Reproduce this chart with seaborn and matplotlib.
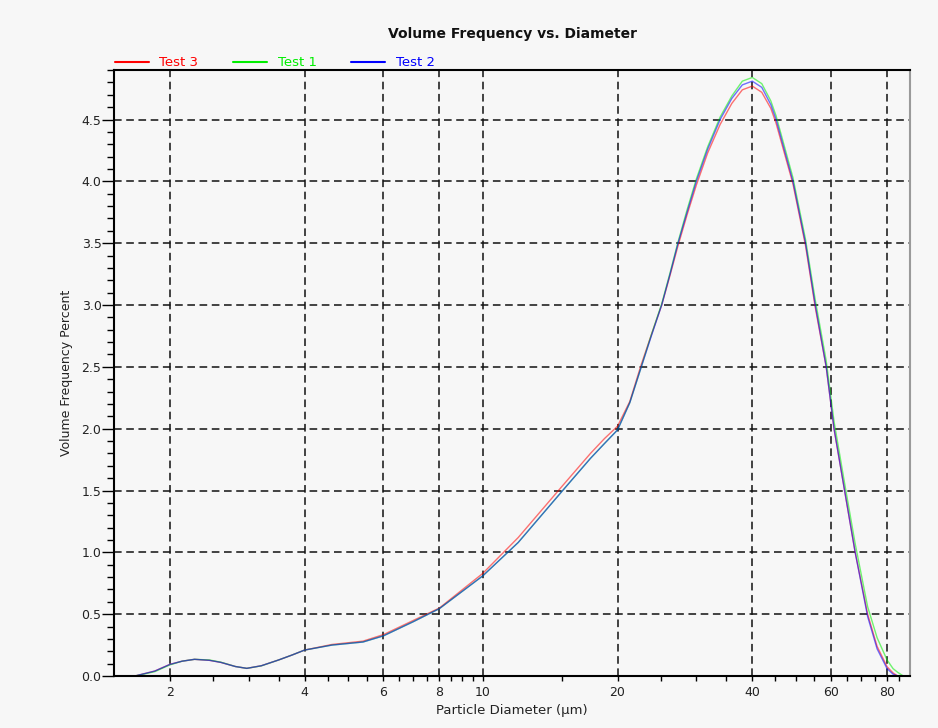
import numpy as np
import pandas as pd
import matplotlib.pyplot as plt
import seaborn as sns
from matplotlib.ticker import FixedLocator, FixedFormatter, MultipleLocator, NullFormatter

# particle diameter (um) and volume frequency (%)
diameter = [1.67, 1.85, 2.0, 2.13, 2.27, 2.45, 2.6, 2.8, 2.97, 3.2, 3.5, 3.75, 4.0, 4.6, 5.4, 6.0,
            7.0, 8.0, 10, 12, 15, 17.4, 18.7, 20, 21.3, 22.6, 23.8, 25.1, 26.2, 27.3, 28.6, 30, 31.8,
            33.9, 36, 38, 40, 42, 44, 45.2, 49.3, 52.6, 55.3, 58.5, 60.9, 64.3, 67.9, 72.4, 76,
            80, 82.5, 84.5, 87]
test3 = [0.0, 0.04, 0.094, 0.12, 0.135, 0.127, 0.11, 0.077, 0.062, 0.083, 0.13, 0.17, 0.21, 0.255,
         0.282, 0.335, 0.45, 0.55, 0.83, 1.12, 1.53, 1.80, 1.92, 2.02, 2.22, 2.52, 2.76, 3.0, 3.24,
         3.48, 3.73, 3.97, 4.23, 4.46, 4.63, 4.74, 4.77, 4.72, 4.59, 4.47, 3.98, 3.48, 2.98, 2.5,
         2.0, 1.5, 1.0, 0.5, 0.24, 0.075, 0.025, 0.0, 0.0]
test1 = [0.0, 0.035, 0.09, 0.12, 0.135, 0.13, 0.112, 0.077, 0.062, 0.082, 0.13, 0.17, 0.21, 0.25,
         0.275, 0.325, 0.44, 0.545, 0.81, 1.08, 1.49, 1.76, 1.88, 1.99, 2.21, 2.5, 2.76, 3.01, 3.26,
         3.51, 3.77, 4.02, 4.28, 4.52, 4.69, 4.81, 4.84, 4.79, 4.65, 4.53, 4.03, 3.53, 3.04, 2.55,
         2.06, 1.56, 1.07, 0.56, 0.31, 0.13, 0.06, 0.03, 0.0]
test2 = [0.0, 0.04, 0.094, 0.12, 0.135, 0.127, 0.11, 0.077, 0.062, 0.083, 0.13, 0.17, 0.21, 0.25,
         0.275, 0.325, 0.44, 0.545, 0.81, 1.08, 1.49, 1.76, 1.88, 1.99, 2.21, 2.5, 2.75, 3.0, 3.25,
         3.5, 3.75, 4.0, 4.26, 4.5, 4.67, 4.78, 4.81, 4.76, 4.62, 4.5, 4.0, 3.5, 3.0, 2.5, 2.0,
         1.5, 1.0, 0.48, 0.22, 0.06, 0.015, 0.0, 0.0]
series_names = ['Test 3', 'Test 1', 'Test 2']
colors = {'Test 3': '#ff0000', 'Test 1': '#00ee00', 'Test 2': '#0000ff'}

major_x = [2, 4, 6, 8, 10, 20, 40, 60, 80]
minor_x = [2.5, 3, 3.5, 4.5, 5, 5.5, 6.5, 7, 7.5, 8.5, 9, 9.5, 15, 25, 30, 35, 45, 50, 55, 65, 70, 75, 85]

n = len(diameter)
df = pd.DataFrame({
    'diameter': diameter * 3,
    'freq': test3 + test1 + test2,
    'series': [s for s in series_names for _ in range(n)],
})

sns.set_style('ticks')
plt.rcParams['font.family'] = ['DejaVu Sans']

bg = '#f7f7f7'
fig = plt.figure(figsize=(9.38, 7.28), dpi=100, facecolor=bg)
ax = fig.add_axes([0.1215, 0.0714, 0.8486, 0.8324], facecolor=bg)

sns.lineplot(data=df, x='diameter', y='freq', hue='series', hue_order=series_names,
             palette=colors, lw=1.0, alpha=0.55, ax=ax)

ax.set_xscale('log')
ax.set_xlim(1.5, 90)
ax.set_ylim(0, 4.9)

ax.xaxis.set_major_locator(FixedLocator(major_x))
ax.xaxis.set_major_formatter(FixedFormatter([str(v) for v in major_x]))
ax.xaxis.set_minor_locator(FixedLocator(minor_x))
ax.xaxis.set_minor_formatter(NullFormatter())
ax.yaxis.set_major_locator(MultipleLocator(0.5))
ax.yaxis.set_minor_locator(MultipleLocator(0.1))
ax.yaxis.set_major_formatter(plt.FuncFormatter(lambda v, p: f'{v:.1f}'))

ax.tick_params(axis='both', which='both', direction='out', width=1.0, color='black',
               labelsize=9, labelcolor='#222222')
ax.tick_params(axis='y', which='major', length=8.5, pad=0.5)
ax.tick_params(axis='y', which='minor', length=5)
ax.tick_params(axis='x', which='both', length=3.5, pad=4)

ax.grid(which='major', color='#111111', linestyle=(0, (5, 3)), linewidth=1.1)

for side in ['left', 'bottom', 'top']:
    ax.spines[side].set_color('black')
    ax.spines[side].set_linewidth(1.5)
ax.spines['right'].set_color('#9a9a9a')
ax.spines['right'].set_linewidth(1.5)

ax.set_xlabel('Particle Diameter (µm)', fontsize=9.5, color='#222222', labelpad=3)
ax.set_ylabel('Volume Frequency Percent', fontsize=9, color='#222222', labelpad=6)
fig.text(0.546, 0.953, 'Volume Frequency vs. Diameter', ha='center', va='center',
         fontsize=10, fontweight='bold', color='#111111')

sns.move_legend(ax, 'lower left', bbox_to_anchor=(0.0, 1.0), ncol=3, frameon=False,
                title=None, fontsize=9.5, handlelength=2.6, handletextpad=0.8,
                columnspacing=2.6, borderaxespad=0.05, borderpad=0.0)
leg = ax.get_legend()
for line, text in zip(leg.get_lines(), leg.get_texts()):
    line.set_alpha(1.0)
    line.set_linewidth(1.5)
    text.set_color(colors[text.get_text()])

fig.savefig('out.png', dpi=100, facecolor=bg)
